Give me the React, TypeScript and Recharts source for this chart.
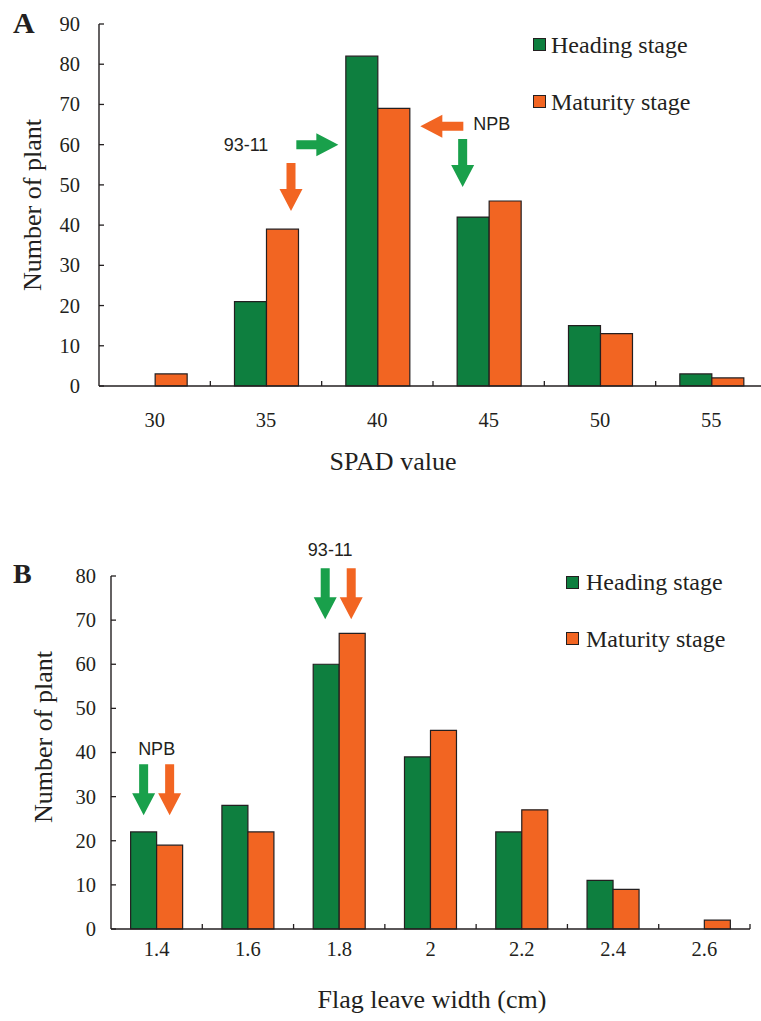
import React from "react";
import { BarChart, Bar, XAxis, YAxis, Legend, ReferenceDot } from "recharts";

// panel A: SPAD value histogram
const spadCategories = ["30", "35", "40", "45", "50", "55"];
const spadHeading = [0, 21, 82, 42, 15, 3];
const spadMaturity = [3, 39, 69, 46, 13, 2];
const spadTicks = [0, 10, 20, 30, 40, 50, 60, 70, 80, 90];

// panel B: flag leave width histogram
const widthCategories = ["1.4", "1.6", "1.8", "2", "2.2", "2.4", "2.6"];
const widthHeading = [22, 28, 60, 39, 22, 11, 0];
const widthMaturity = [19, 22, 67, 45, 27, 9, 2];
const widthTicks = [0, 10, 20, 30, 40, 50, 60, 70, 80];

const spadData = spadCategories.map((c, i) => ({ cat: c, heading: spadHeading[i], maturity: spadMaturity[i] }));
const widthData = widthCategories.map((c, i) => ({ cat: c, heading: widthHeading[i], maturity: widthMaturity[i] }));

const GREEN = "#0e7f3f";
const ORANGE = "#f26522";
const ARROW_GREEN = "#19a04b";
const INK = "#231f20";
const SERIF = '"Liberation Serif", "Times New Roman", serif';
const SANS = '"Liberation Sans", Arial, sans-serif';

// arrows / labels pointing at the parental lines
const spadNotes = [
  { x: "35", y: 60, kind: "text", dx: -20, text: "93-11" },
  { x: "40", y: 60, kind: "right", dx: -39, color: ARROW_GREEN, len: 42 },
  { x: "35", y: 43.5, kind: "down", dx: 25, color: ORANGE, len: 48 },
  { x: "45", y: 65.2, kind: "text", dx: 3, text: "NPB" },
  { x: "40", y: 64.6, kind: "left", dx: 43, color: ORANGE, len: 43 },
  { x: "45", y: 49.5, kind: "down", dx: -26, color: ARROW_GREEN, len: 48 },
];
const widthNotes = [
  { x: "1.8", y: 86, kind: "text", dx: -9, text: "93-11" },
  { x: "1.8", y: 70.2, kind: "down", dx: -14, color: ARROW_GREEN, len: 51 },
  { x: "1.8", y: 70.2, kind: "down", dx: 12, color: ORANGE, len: 51 },
  { x: "1.4", y: 41, kind: "text", dx: 0, text: "NPB" },
  { x: "1.4", y: 25.8, kind: "down", dx: -13, color: ARROW_GREEN, len: 51 },
  { x: "1.4", y: 25.8, kind: "down", dx: 13, color: ORANGE, len: 51 },
];

function arrowPoints(kind: string, tx: number, ty: number, L: number) {
  const h = 22, w = 23, s = 9;
  let pts: number[][] = [];
  if (kind === "down") {
    pts = [[-s / 2, -L], [s / 2, -L], [s / 2, -h], [w / 2, -h], [0, 0], [-w / 2, -h], [-s / 2, -h]];
  } else if (kind === "right") {
    pts = [[-L, -s / 2], [-h, -s / 2], [-h, -w / 2], [0, 0], [-h, w / 2], [-h, s / 2], [-L, s / 2]];
  } else {
    pts = [[L, -s / 2], [h, -s / 2], [h, -w / 2], [0, 0], [h, w / 2], [h, s / 2], [L, s / 2]];
  }
  return pts.map(([a, b]) => `${tx + a},${ty + b}`).join(" ");
}

function Note(props: any) {
  const { cx, cy, note } = props;
  if (cx == null || cy == null) return <g />;
  const x = cx + note.dx;
  if (note.kind === "text") {
    return (
      <text x={x} y={cy} dy="0.36em" textAnchor="middle" fontSize={18} fontFamily={SANS} fill={INK}>
        {note.text}
      </text>
    );
  }
  return <polygon points={arrowPoints(note.kind, x, cy, note.len)} fill={note.color} />;
}

function YTick(props: any) {
  const { x, y, payload, gap } = props;
  return (
    <g>
      <line x1={x} x2={x + 5} y1={y} y2={y} stroke={INK} strokeWidth={1.3} />
      <text x={x - gap} y={y} dy="0.34em" textAnchor="end" fontSize={20.5} fontFamily={SERIF} fill={INK}>
        {payload.value}
      </text>
    </g>
  );
}

function XTick(props: any) {
  const { x, y, payload, band, labelDy } = props;
  return (
    <g>
      <line x1={x + band / 2} x2={x + band / 2} y1={y} y2={y - 5} stroke={INK} strokeWidth={1.3} />
      <text x={x} y={y + labelDy} textAnchor="middle" fontSize={20.5} fontFamily={SERIF} fill={INK}>
        {payload.value}
      </text>
    </g>
  );
}

// axis title at a fixed spot in the chart svg
function Title(props: any) {
  const { px, py, text, rotate } = props;
  return (
    <text
      x={px}
      y={py}
      textAnchor="middle"
      fontSize={26}
      fontFamily={SERIF}
      fill={INK}
      transform={rotate ? `rotate(-90, ${px}, ${py})` : undefined}
    >
      {text}
    </text>
  );
}

function renderLegend(rowH: number, gap: number) {
  return (props: any) => (
    <div>
      {(props.payload || []).map((item: any) => (
        <div key={item.value} style={{ display: "flex", alignItems: "center", height: rowH }}>
          <span
            style={{
              width: 13,
              height: 13,
              boxSizing: "border-box",
              background: item.color,
              border: `1.3px solid ${INK}`,
              marginRight: gap,
            }}
          />
          <span style={{ fontFamily: SERIF, fontSize: 24, color: INK, lineHeight: "24px", whiteSpace: "nowrap" }}>
            {item.value}
          </span>
        </div>
      ))}
    </div>
  );
}

const A_W = 800, A_H = 480, A_LEFT = 99, A_RIGHT = 767;
const B_W = 761, B_H = 521, B_LEFT = 111, B_RIGHT = 750;

export default function App() {
  const bandA = (A_RIGHT - A_LEFT) / spadCategories.length;
  const bandB = (B_RIGHT - B_LEFT) / widthCategories.length;
  return (
    <div style={{ position: "absolute", left: 0, top: 0, width: 761, height: 1021, overflow: "hidden", background: "#fff" }}>
      {/* Panel A */}
      <div style={{ position: "absolute", left: 0, top: 0 }}>
        <BarChart
          width={A_W}
          height={A_H}
          data={spadData}
          margin={{ top: 24, right: A_W - A_RIGHT, left: 0, bottom: 0 }}
          barCategoryGap="21.7%"
          barGap={0}
        >
          <XAxis
            dataKey="cat"
            height={94}
            interval={0}
            tickLine={false}
            tickSize={0}
            tickMargin={0}
            axisLine={{ stroke: INK, strokeWidth: 1.6 }}
            tick={(p: any) => <XTick {...p} band={bandA} labelDy={41} />}
            label={<Title px={393} py={470} text="SPAD value" />}
          />
          <YAxis
            width={A_LEFT}
            domain={[0, 90]}
            ticks={spadTicks}
            interval={0}
            tickLine={false}
            tickSize={0}
            tickMargin={0}
            axisLine={{ stroke: INK, strokeWidth: 1.4 }}
            tick={(p: any) => <YTick {...p} gap={19} />}
            label={<Title px={41} py={205} text="Number of plant" rotate />}
          />
          <Legend
            layout="horizontal"
            verticalAlign="middle"
            align="center"
            content={renderLegend(57, 5)}
            wrapperStyle={{ left: 533, top: 16, width: "auto" }}
          />
          <Bar dataKey="heading" name="Heading stage" fill={GREEN} stroke={INK} strokeWidth={1.2} isAnimationActive={false} />
          <Bar dataKey="maturity" name="Maturity stage" fill={ORANGE} stroke={INK} strokeWidth={1.2} isAnimationActive={false} />
          {spadNotes.map((n, i) => (
            <ReferenceDot key={i} x={n.x} y={n.y} ifOverflow="visible" shape={(p: any) => <Note {...p} note={n} />} />
          ))}
        </BarChart>
      </div>
      <div style={{ position: "absolute", left: 13, top: 8, fontFamily: SERIF, fontWeight: "bold", fontSize: 30, lineHeight: "30px", color: INK }}>
        A
      </div>

      {/* Panel B */}
      <div style={{ position: "absolute", left: 0, top: 500 }}>
        <BarChart
          width={B_W}
          height={B_H}
          data={widthData}
          margin={{ top: 76, right: B_W - B_RIGHT, left: 0, bottom: 0 }}
          barCategoryGap="21.5%"
          barGap={0}
        >
          <XAxis
            dataKey="cat"
            height={92}
            interval={0}
            tickLine={false}
            tickSize={0}
            tickMargin={0}
            axisLine={{ stroke: INK, strokeWidth: 1.6 }}
            tick={(p: any) => <XTick {...p} band={bandB} labelDy={27} />}
            label={<Title px={432} py={508} text="Flag leave width (cm)" />}
          />
          <YAxis
            width={B_LEFT}
            domain={[0, 80]}
            ticks={widthTicks}
            interval={0}
            tickLine={false}
            tickSize={0}
            tickMargin={0}
            axisLine={{ stroke: INK, strokeWidth: 1.4 }}
            tick={(p: any) => <YTick {...p} gap={15} />}
            label={<Title px={52} py={237} text="Number of plant" rotate />}
          />
          <Legend
            layout="horizontal"
            verticalAlign="middle"
            align="center"
            content={renderLegend(56.5, 7)}
            wrapperStyle={{ left: 566, top: 54, width: "auto" }}
          />
          <Bar dataKey="heading" name="Heading stage" fill={GREEN} stroke={INK} strokeWidth={1.2} isAnimationActive={false} />
          <Bar dataKey="maturity" name="Maturity stage" fill={ORANGE} stroke={INK} strokeWidth={1.2} isAnimationActive={false} />
          {widthNotes.map((n, i) => (
            <ReferenceDot key={i} x={n.x} y={n.y} ifOverflow="visible" shape={(p: any) => <Note {...p} note={n} />} />
          ))}
        </BarChart>
      </div>
      <div style={{ position: "absolute", left: 13, top: 560, fontFamily: SERIF, fontWeight: "bold", fontSize: 28, lineHeight: "28px", color: INK }}>
        B
      </div>
    </div>
  );
}
